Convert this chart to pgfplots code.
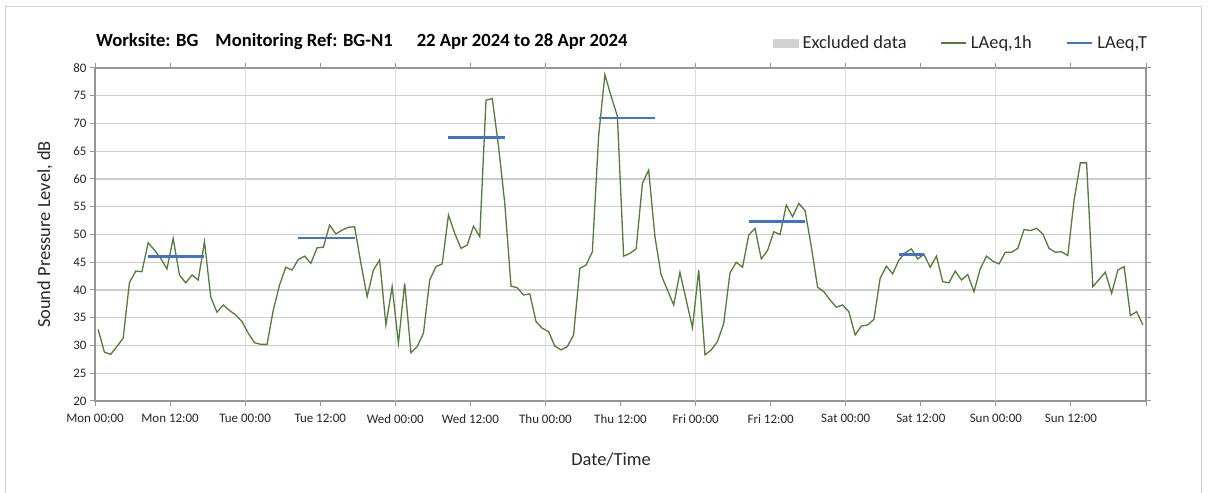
\documentclass[border=0pt]{standalone}
\usepackage{pgfplots}
\pgfplotsset{compat=1.18}
\usepackage{fontspec}
\setmainfont{Carlito}
\definecolor{lineG}{RGB}{84,122,60}
\definecolor{lineB}{RGB}{68,114,196}
\definecolor{hgrid}{RGB}{205,205,205}
\definecolor{vgrid}{RGB}{222,222,222}
\definecolor{axisc}{RGB}{150,150,150}
\definecolor{excl}{RGB}{210,210,210}
\pgfplotstableread{
x y
0.5 32.9
1.5 28.8
2.5 28.4
3.5 29.8
4.5 31.3
5.5 41.3
6.5 43.4
7.5 43.3
8.5 48.5
9.5 47.2
10.5 45.7
11.5 43.8
12.5 49.3
13.5 42.7
14.5 41.3
15.5 42.7
16.5 41.8
17.5 48.7
18.5 38.7
19.5 36.0
20.5 37.3
21.5 36.3
22.5 35.5
23.5 34.3
24.5 32.2
25.5 30.5
26.5 30.2
27.5 30.2
28.5 36.4
29.5 40.9
30.5 44.1
31.5 43.6
32.5 45.5
33.5 46.1
34.5 44.8
35.5 47.6
36.5 47.7
37.5 51.7
38.5 50.1
39.5 50.8
40.5 51.3
41.5 51.4
42.5 44.8
43.5 38.8
44.5 43.6
45.5 45.4
46.5 33.7
47.5 40.6
48.5 30.4
49.5 41.2
50.5 28.7
51.5 29.8
52.5 32.2
53.5 41.8
54.5 44.2
55.5 44.7
56.5 53.5
57.5 50.2
58.5 47.5
59.5 48.1
60.5 51.5
61.5 49.6
62.5 74.2
63.5 74.5
64.5 65.9
65.5 55.6
66.5 40.7
67.5 40.4
68.5 39.1
69.5 39.3
70.5 34.3
71.5 33.1
72.5 32.5
73.5 29.9
74.5 29.2
75.5 29.8
76.5 31.9
77.5 43.9
78.5 44.5
79.5 46.9
80.5 67.7
81.5 78.8
82.5 74.9
83.5 71.3
84.5 46.1
85.5 46.6
86.5 47.4
87.5 59.2
88.5 61.6
89.5 49.6
90.5 42.7
91.5 40.0
92.5 37.3
93.5 43.2
94.5 38.2
95.5 33.2
96.5 43.6
97.5 28.3
98.5 29.2
99.5 30.7
100.5 34.0
101.5 43.1
102.5 45.0
103.5 44.1
104.5 49.9
105.5 51.1
106.5 45.6
107.5 47.1
108.5 50.5
109.5 50.0
110.5 55.3
111.5 53.2
112.5 55.6
113.5 54.3
114.5 47.8
115.5 40.5
116.5 39.7
117.5 38.2
118.5 36.9
119.5 37.3
120.5 36.1
121.5 31.9
122.5 33.5
123.5 33.7
124.5 34.7
125.5 42.1
126.5 44.3
127.5 42.9
128.5 45.4
129.5 46.7
130.5 47.4
131.5 45.6
132.5 46.4
133.5 44.1
134.5 46.1
135.5 41.5
136.5 41.3
137.5 43.4
138.5 41.8
139.5 42.8
140.5 39.7
141.5 43.8
142.5 46.1
143.5 45.2
144.5 44.7
145.5 46.8
146.5 46.8
147.5 47.5
148.5 50.9
149.5 50.7
150.5 51.1
151.5 50.1
152.5 47.5
153.5 46.8
154.5 46.9
155.5 46.2
156.5 56.2
157.5 62.9
158.5 62.9
159.5 40.6
160.5 41.9
161.5 43.2
162.5 39.4
163.5 43.6
164.5 44.2
165.5 35.4
166.5 36.1
167.5 33.7
}\hourly
\begin{document}
\begin{tikzpicture}[x=1bp,y=1bp]
\useasboundingbox (0,0) rectangle (1208,493);
\draw[color=black!18, line width=1bp] (5.5,0) -- (5.5,486) -- (1201.5,486) -- (1201.5,0);
\begin{axis}[
  at={(95bp,92bp)}, anchor=south west,
  scale only axis, width=1051bp, height=333bp,
  xmin=0, xmax=168, ymin=20, ymax=80,
  xtick={0,12,...,168},
  xticklabels={Mon 00:00, Mon 12:00, Tue 00:00, Tue 12:00, Wed 00:00, Wed 12:00, Thu 00:00, Thu 12:00, Fri 00:00, Fri 12:00, Sat 00:00, Sat 12:00, Sun 00:00, Sun 12:00, {}},
  ytick={20,25,...,80},
  ymajorgrids, major grid style={color=hgrid, line width=1.2bp},
  extra x ticks={24,48,72,96,120,144}, extra x tick labels={},
  extra x tick style={grid=major, major grid style={color=vgrid, line width=1.2bp}},
  tick align=outside, major tick length=5bp,
  every tick/.style={color=axisc, line width=1bp},
  axis line style={color=axisc, line width=1.2bp},
  tick label style={font=\fontsize{13}{15}\selectfont, color=black!85},
  xticklabel style={yshift=-5bp},
  /pgf/number format/assume math mode=true,
  xlabel={Date/Time},
  xlabel style={at={(axis description cs:0.5,0)}, anchor=center, yshift=-58bp, xshift=-9.5bp, font=\fontsize{18.5}{20}\selectfont, color=black!85},
  ylabel={Sound Pressure Level, dB},
  ylabel style={at={(axis description cs:-0.0476,0.5)}, anchor=center, font=\fontsize{18.5}{20}\selectfont, color=black!85},
  title={Worksite: BG\hspace{17bp}Monitoring Ref: BG-N1\hspace{24bp}22 Apr 2024 to 28 Apr 2024},
  title style={at={(axis description cs:0,1)}, anchor=west, inner sep=0pt, yshift=20bp, xshift=1bp, font=\bfseries\fontsize{18.7}{20}\selectfont},
  legend columns=3,
  legend style={at={(rel axis cs:0.645,1.075)}, anchor=west, draw=none, fill=none, inner sep=0pt,
    font=\fontsize{18.5}{20}\selectfont, text=black!85,
    nodes={inner sep=1bp},
    /tikz/every odd column/.append style={column sep=3bp},
    /tikz/every even column/.append style={column sep=33bp}},
]
\addlegendimage{legend image code/.code={\fill[excl] (0bp,-4bp) rectangle (25bp,4bp);}}
\addlegendentry{Excluded data}
\addplot[color=lineG, line width=1.3bp, mark=none, legend image code/.code={\draw[lineG, line width=1.3bp] (0bp,0bp) -- (25bp,0bp);}] table[x=x,y=y] {\hourly};
\addlegendentry{LAeq,1h}
\addplot[color=lineB, line width=2.6bp, mark=none, legend image code/.code={\draw[lineB, line width=2.6bp] (0bp,0bp) -- (25bp,0bp);}] coordinates {(8.5,46.0) (17.5,46.0)};
\addlegendentry{LAeq,T}
\addplot[color=lineB, line width=2.6bp, mark=none, forget plot] coordinates {(32.5,49.4) (41.5,49.4)};
\addplot[color=lineB, line width=2.6bp, mark=none, forget plot] coordinates {(56.5,67.5) (65.5,67.5)};
\addplot[color=lineB, line width=2.6bp, mark=none, forget plot] coordinates {(80.5,71.0) (89.5,71.0)};
\addplot[color=lineB, line width=2.6bp, mark=none, forget plot] coordinates {(104.5,52.3) (113.5,52.3)};
\addplot[color=lineB, line width=2.6bp, mark=none, forget plot] coordinates {(128.5,46.4) (132.5,46.4)};
\end{axis}
\end{tikzpicture}
\end{document}
